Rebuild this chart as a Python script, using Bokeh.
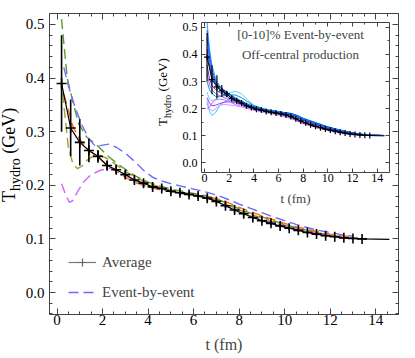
import math
from bokeh.plotting import figure
from bokeh.models import (LinearAxis, SingleIntervalTicker, PrintfTickFormatter, Label,
                          Legend, LegendItem, Range1d, CustomJSTickFormatter, Div)
from bokeh.layouts import column
from bokeh.embed import file_html
from bokeh.resources import INLINE

FONT = "Liberation Serif"
FRAME = "#444444"

# ---------------- data ----------------
# average (crosses)
avg_t = [0.2, 0.6, 1.0, 1.4, 1.8, 2.2, 2.6, 3.0, 3.4, 3.8, 4.2, 4.6, 5.0, 5.4, 5.8, 6.2, 6.6,
         7.0, 7.4, 7.8, 8.2, 8.6, 9.0, 9.4, 9.8, 10.2, 10.6, 11.0, 11.4, 11.8, 12.2, 12.6, 13.0, 13.4]
avg_T = [0.39, 0.307, 0.28, 0.265, 0.254, 0.237, 0.229, 0.22, 0.21, 0.204, 0.197, 0.194, 0.189,
         0.186, 0.183, 0.18, 0.176, 0.17, 0.162, 0.154, 0.147, 0.14, 0.134, 0.129, 0.124, 0.12,
         0.116, 0.112, 0.109, 0.106, 0.104, 0.102, 0.101, 0.1]
avg_err = [0.09, 0.053, 0.043, 0.022, 0.012, 0.009, 0.008, 0.007, 0.006, 0.006, 0.005, 0.005,
           0.005, 0.005, 0.005, 0.005, 0.005, 0.005, 0.005, 0.005, 0.005, 0.005, 0.004, 0.004,
           0.004, 0.004, 0.003, 0.003, 0.003, 0.003, 0.002, 0.002, 0.002, 0.002]
tail_t = [14.6]
tail_T = [0.099]

# event-by-event examples (main panel)
blue_t = [0.3, 0.5, 0.8, 1.1, 1.4, 1.7, 2.0, 2.3, 2.6, 3.0, 3.4, 3.8, 4.2, 4.6, 5.0, 5.5, 6.0,
          6.5, 7.0, 7.5, 8.0, 8.5, 9.0, 9.5, 10.0, 10.5, 11.0, 11.5, 12.0, 12.5, 13.0]
blue_T = [0.42, 0.385, 0.345, 0.312, 0.287, 0.272, 0.275, 0.277, 0.271, 0.26, 0.245, 0.228,
          0.215, 0.208, 0.203, 0.198, 0.193, 0.188, 0.182, 0.174, 0.165, 0.157, 0.149, 0.141,
          0.134, 0.127, 0.121, 0.116, 0.112, 0.108, 0.105]
orange_t = [0.3, 0.5, 0.7, 1.0, 1.4, 1.8, 2.2, 2.6, 3.0, 3.5, 4.0, 4.5, 5.0, 5.5, 6.0, 6.5, 7.0,
            7.5, 8.0, 8.5, 9.0, 9.5, 10.0, 10.5, 11.0, 11.5, 12.0, 12.5, 12.9]
orange_T = [0.37, 0.34, 0.31, 0.285, 0.265, 0.252, 0.238, 0.226, 0.215, 0.204, 0.197, 0.192,
            0.188, 0.185, 0.182, 0.179, 0.175, 0.168, 0.159, 0.151, 0.143, 0.136, 0.129, 0.123,
            0.118, 0.113, 0.109, 0.106, 0.104]
green_t = [0.2, 0.3, 0.45, 0.7, 0.95, 1.3, 1.75, 2.2, 2.6, 3.0, 3.5, 4.0, 4.5, 5.0, 5.5, 6.0,
           6.5, 7.0, 7.5, 8.0, 8.5, 9.0, 9.5, 10.0, 10.5, 11.0, 11.5, 12.0, 12.5]
green_T = [0.51, 0.465, 0.40, 0.355, 0.315, 0.29, 0.275, 0.256, 0.242, 0.23, 0.216, 0.206,
           0.199, 0.193, 0.189, 0.185, 0.181, 0.175, 0.166, 0.156, 0.148, 0.141, 0.134, 0.127,
           0.121, 0.116, 0.111, 0.107, 0.104]
olive_t = [0.2, 0.3, 0.5, 0.7, 0.9, 1.1, 1.3, 1.6, 1.9, 2.2, 2.6, 3.0, 3.5, 4.0, 4.5, 5.0, 5.5,
           6.0, 6.5, 7.0, 7.5, 8.0, 8.5, 9.0, 9.5, 10.0, 10.5, 11.0, 11.5, 12.0, 12.5]
olive_T = [0.40, 0.35, 0.27, 0.24, 0.231, 0.236, 0.246, 0.255, 0.256, 0.25, 0.238, 0.226, 0.214,
           0.204, 0.197, 0.191, 0.187, 0.183, 0.179, 0.172, 0.163, 0.154, 0.146, 0.139, 0.132,
           0.126, 0.12, 0.115, 0.111, 0.107, 0.104]
magenta_t = [0.2, 0.4, 0.55, 0.7, 0.9, 1.2, 1.5, 1.9, 2.3, 2.7, 3.1, 3.5, 4.0, 4.5, 5.0, 5.5,
             6.0, 6.5, 7.0, 7.5, 8.0, 8.5, 9.0, 9.5, 10.0, 10.5, 11.0, 11.5, 12.0, 12.5]
magenta_T = [0.203, 0.18, 0.168, 0.172, 0.188, 0.208, 0.22, 0.228, 0.232, 0.228, 0.217, 0.207,
             0.199, 0.193, 0.188, 0.184, 0.181, 0.177, 0.17, 0.16, 0.15, 0.143, 0.136, 0.13,
             0.124, 0.119, 0.114, 0.11, 0.106, 0.104]

# inset: individual events on a common time grid
ins_t = [0.2, 0.4, 0.6, 0.9, 1.2, 1.6, 2.0, 2.5, 3.0, 3.5, 4.0, 5.0, 6.0, 7.0, 7.5, 8.0, 9.0,
         10.0, 11.0, 12.0, 13.0, 14.5]
ev01 = [0.22, 0.19, 0.174, 0.185, 0.21, 0.225, 0.232, 0.232, 0.225, 0.213, 0.203, 0.192, 0.185,
        0.176, 0.167, 0.156, 0.141, 0.127, 0.116, 0.107, 0.102, 0.1]
ev02 = [0.26, 0.235, 0.228, 0.235, 0.245, 0.25, 0.258, 0.264, 0.255, 0.232, 0.212, 0.196, 0.188,
        0.181, 0.173, 0.162, 0.146, 0.131, 0.119, 0.109, 0.103, 0.1]
ev03 = [0.52, 0.42, 0.36, 0.31, 0.285, 0.268, 0.255, 0.24, 0.228, 0.217, 0.207, 0.195, 0.187,
        0.179, 0.17, 0.159, 0.143, 0.128, 0.117, 0.108, 0.102, 0.1]
ev04 = [0.46, 0.38, 0.33, 0.295, 0.275, 0.262, 0.25, 0.236, 0.224, 0.213, 0.204, 0.193, 0.186,
        0.18, 0.172, 0.161, 0.145, 0.13, 0.118, 0.109, 0.103, 0.1]
ev05 = [0.42, 0.36, 0.32, 0.29, 0.27, 0.257, 0.246, 0.233, 0.222, 0.211, 0.202, 0.191, 0.184,
        0.177, 0.169, 0.158, 0.142, 0.127, 0.116, 0.107, 0.102, 0.1]
ev06 = [0.3, 0.27, 0.255, 0.245, 0.245, 0.247, 0.25, 0.25, 0.24, 0.225, 0.21, 0.196, 0.188,
        0.181, 0.174, 0.163, 0.147, 0.132, 0.12, 0.11, 0.103, 0.1]
ev07 = [0.36, 0.31, 0.285, 0.27, 0.26, 0.25, 0.24, 0.228, 0.217, 0.207, 0.199, 0.189, 0.181,
        0.172, 0.162, 0.151, 0.137, 0.124, 0.113, 0.105, 0.101, 0.1]
ev08 = [0.24, 0.22, 0.21, 0.212, 0.218, 0.223, 0.225, 0.222, 0.214, 0.205, 0.197, 0.187, 0.179,
        0.168, 0.158, 0.148, 0.134, 0.121, 0.111, 0.104, 0.101, 0.1]
ev09 = [0.2, 0.205, 0.22, 0.232, 0.235, 0.232, 0.225, 0.215, 0.207, 0.2, 0.194, 0.185, 0.177,
        0.165, 0.155, 0.145, 0.132, 0.119, 0.109, 0.103, 0.1, 0.099]
ev10 = [0.33, 0.29, 0.268, 0.255, 0.248, 0.24, 0.232, 0.222, 0.213, 0.204, 0.197, 0.188, 0.18,
        0.17, 0.16, 0.15, 0.136, 0.123, 0.112, 0.104, 0.101, 0.1]
ev11 = [0.49, 0.4, 0.345, 0.3, 0.28, 0.266, 0.253, 0.238, 0.226, 0.215, 0.206, 0.195, 0.188,
        0.182, 0.175, 0.164, 0.148, 0.132, 0.12, 0.11, 0.103, 0.1]
ev12 = [0.23, 0.2, 0.19, 0.2, 0.212, 0.215, 0.213, 0.21, 0.206, 0.2, 0.194, 0.184, 0.175, 0.163,
        0.153, 0.143, 0.13, 0.118, 0.108, 0.102, 0.1, 0.099]
inset_events = [ev01, ev02, ev03, ev04, ev05, ev06, ev07, ev08, ev09, ev10, ev11, ev12]
inset_colors = ["#33ccff", "#66ccff", "#3399ff", "#3366ff", "#3333cc", "#0099cc",
                "#6633cc", "#9933ff", "#cc66ff", "#9966ff", "#0066ff", "#cc99ff"]

NO_LABEL = CustomJSTickFormatter(code="return ''")


def add_frame_axes(p, xi, xm, yi, ym, fs, tmaj, tmin, xstand, ystand):
    axes = {}
    for loc in ("below", "left", "above", "right"):
        horiz = loc in ("below", "above")
        labeled = loc in ("below", "left")
        ax = LinearAxis(
            ticker=SingleIntervalTicker(interval=xi if horiz else yi,
                                        num_minor_ticks=xm if horiz else ym),
            formatter=(PrintfTickFormatter(format="%d" if horiz else "%.1f")
                       if labeled else NO_LABEL))
        ax.major_tick_in = tmaj
        ax.major_tick_out = 0
        ax.minor_tick_in = tmin
        ax.minor_tick_out = 0
        ax.axis_line_color = FRAME
        ax.major_tick_line_color = FRAME
        ax.minor_tick_line_color = FRAME
        ax.major_label_text_font = FONT
        ax.major_label_text_color = "black"
        ax.major_label_text_font_size = f"{fs}px"
        ax.major_label_standoff = (xstand if horiz else ystand) if labeled else 0
        p.add_layout(ax, loc)
        axes[loc] = ax
    return axes


def rotated_title(left, top, big, small):
    html = ('<div style="transform: rotate(-90deg); transform-origin: left top; '
            'white-space: nowrap; font-family: \'Liberation Serif\'; '
            f'font-size: {big}px; line-height: 1.15; color: black;">'
            f'T<sub style="font-size: {small}px;">hydro</sub> (GeV)</div>')
    return Div(text=html, margin=0,
               styles={"position": "absolute", "left": f"{left}px", "top": f"{top}px"})


# ---------------- main panel ----------------
main = figure(frame_width=349, frame_height=301,
              x_range=Range1d(-0.33, 15.0), y_range=Range1d(-0.041, 0.5205),
              x_axis_type=None, y_axis_type=None,
              output_backend="svg", toolbar_location=None,
              min_border_left=49, min_border_right=17, min_border_top=13, min_border_bottom=44,
              background_fill_color="white", border_fill_color="white")
main.outline_line_color = None
ax_main = add_frame_axes(main, 2, 4, 0.1, 5, 15, 6, 3, 0, 5)
ax_main["below"].axis_label = "t (fm)"
ax_main["below"].axis_label_text_font = FONT
ax_main["below"].axis_label_text_font_size = "16px"
ax_main["below"].axis_label_text_font_style = "normal"
ax_main["below"].axis_label_standoff = 8

DASH = "10 5"
main.line(olive_t, olive_T, line_color="#a0a035", line_width=1.4, line_dash=DASH)
main.line(green_t, green_T, line_color="#5e9a2e", line_width=1.4, line_dash=DASH)
main.line(orange_t, orange_T, line_color="#ff6a10", line_width=1.4, line_dash=DASH)
main.line(magenta_t, magenta_T, line_color="#cc66ff", line_width=1.4, line_dash=DASH)
blue_r = main.line(blue_t, blue_T, line_color="#6b6bff", line_width=1.4, line_dash=DASH)

main.line(avg_t + tail_t, avg_T + tail_T, line_color="black", line_width=1.2)
main.segment(x0=avg_t, y0=[a - e for a, e in zip(avg_T, avg_err)],
             x1=avg_t, y1=[a + e for a, e in zip(avg_T, avg_err)],
             line_color="black", line_width=1.6)
main.scatter(avg_t, avg_T, marker="cross", size=10, line_color="black", line_width=1.6)

# legend-only glyphs (no visible data)
leg_line = main.line(x=[float("nan")], y=[float("nan")], line_color="#7a7a7a", line_width=1.2)
leg_mark = main.scatter(x=[float("nan")], y=[float("nan")], marker="cross", size=16,
                        line_color="#666666", line_width=1.2)
legend = Legend(items=[LegendItem(label="Average", renderers=[leg_line, leg_mark]),
                       LegendItem(label="Event-by-event", renderers=[blue_r])],
                location=(19, 12), border_line_color=None, background_fill_alpha=0,
                padding=0, margin=0, spacing=10, glyph_width=28, glyph_height=20,
                label_height=20, label_standoff=6, label_text_font=FONT,
                label_text_font_size="15px", label_text_baseline="middle")
main.add_layout(legend)

# ---------------- inset ----------------
inset = figure(frame_width=188, frame_height=150,
               x_range=Range1d(-0.25, 15.0), y_range=Range1d(-0.037, 0.5185),
               x_axis_type=None, y_axis_type=None,
               output_backend="svg", toolbar_location=None,
               min_border_left=52, min_border_right=3, min_border_top=3, min_border_bottom=34,
               background_fill_color="white", border_fill_alpha=0)
inset.outline_line_color = None
ax_in = add_frame_axes(inset, 2, 2, 0.1, 2, 12, 4, 2, 1, 4)
ax_in["below"].axis_label = "t (fm)"
ax_in["below"].axis_label_text_font = FONT
ax_in["below"].axis_label_text_font_size = "13px"
ax_in["below"].axis_label_text_font_style = "normal"
ax_in["below"].axis_label_standoff = 6

inset.multi_line(xs=[ins_t] * len(inset_events), ys=inset_events,
                 line_color=inset_colors, line_width=1.0)
inset.line(avg_t + tail_t, avg_T + tail_T, line_color="black", line_width=1.0)
inset.segment(x0=avg_t, y0=[a - e for a, e in zip(avg_T, avg_err)],
              x1=avg_t, y1=[a + e for a, e in zip(avg_T, avg_err)],
              line_color="black", line_width=1.2)
inset.scatter(avg_t, avg_T, marker="cross", size=6, line_color="black", line_width=1.2)

inset.add_layout(Label(x=99, y=138, x_units="screen", y_units="screen",
                       text="[0-10]% Event-by-event", text_font=FONT, text_font_size="13px",
                       text_align="center", text_baseline="middle"))
inset.add_layout(Label(x=99, y=118, x_units="screen", y_units="screen",
                       text="Off-central production", text_font=FONT, text_font_size="13px",
                       text_align="center", text_baseline="middle"))

inset_box = column(inset, styles={"position": "absolute", "left": "149px", "top": "19px"})

# rotated y-axis titles with subscript
ytitle_main = rotated_title(-1, 202, 18, 14)
ytitle_inset = rotated_title(156, 125, 13, 10)

layout = column(main, inset_box, ytitle_main, ytitle_inset)
open("out.html", "w").write(file_html(layout, INLINE))
